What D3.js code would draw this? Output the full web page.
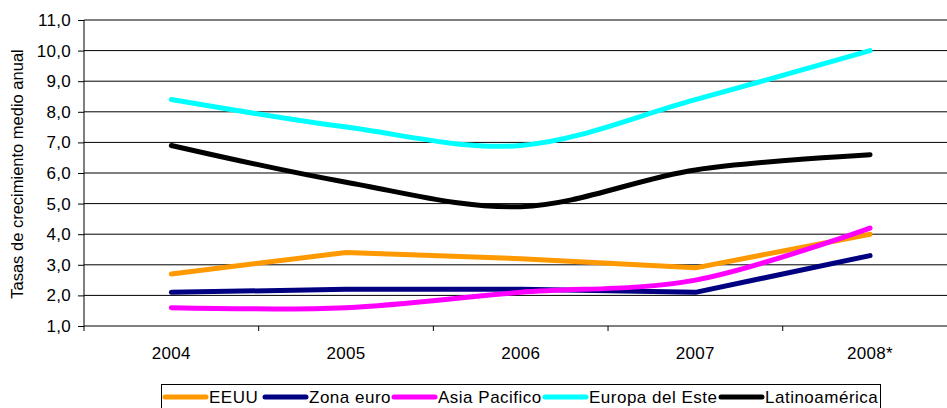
<!DOCTYPE html>
<html>
<head>
<meta charset="utf-8">
<script src="https://cdn.jsdelivr.net/npm/d3@7"></script>
<style>
  html, body { margin: 0; padding: 0; background: #fff; }
  svg { display: block; font-family: "Liberation Sans", Arial, sans-serif; }
</style>
</head>
<body>
<svg id="chart" width="947" height="408"></svg>
<script>
// Categories and tick labels
const years = ["2004", "2005", "2006", "2007", "2008*"];
const yTicks = [1, 2, 3, 4, 5, 6, 7, 8, 9, 10, 11];

// Series values (average annual growth rates)
const eeuu          = [2.7, 3.4, 3.2, 2.9, 4.0];
const zonaEuro      = [2.1, 2.2, 2.2, 2.1, 3.3];
const asiaPacifico  = [1.6, 1.6, 2.1, 2.5, 4.2];
const europaEste    = [8.4, 7.5, 6.9, 8.4, 10.0];
const latinoamerica = [6.9, 5.7, 4.9, 6.1, 6.6];

const seriesNames = ["EEUU", "Zona euro", "Asia Pacifico", "Europa del Este", "Latinoamérica"];
const seriesValues = [eeuu, zonaEuro, asiaPacifico, europaEste, latinoamerica];
const seriesColors = ["#FF9900", "#000080", "#FF00FF", "#00FFFF", "#000000"];
const seriesSmooth = [false, false, true, true, true];

(function draw() {
  const svg = d3.select("#chart");
  const plotLeft = 84, plotRight = 957.4, plotTop = 20, plotBottom = 326;

  const x = d3.scaleBand().domain(years).range([plotLeft, plotRight]).paddingInner(0).paddingOuter(0);
  const y = d3.scaleLinear().domain([1, 11]).range([plotBottom, plotTop]);

  // Horizontal gridlines
  svg.append("g")
    .selectAll("line")
    .data(yTicks.slice(1))
    .join("line")
    .attr("x1", plotLeft).attr("x2", 947)
    .attr("y1", d => y(d)).attr("y2", d => y(d))
    .attr("stroke", "#000").attr("stroke-width", 1);

  // Y axis
  const yAxis = svg.append("g")
    .attr("transform", `translate(${plotLeft},0)`)
    .call(d3.axisLeft(y).tickValues(yTicks).tickSize(6).tickPadding(7)
      .tickFormat(d => d3.format(".1f")(d).replace(".", ",")));
  yAxis.select(".domain").attr("stroke", "#000").attr("d", `M0,${plotTop}V${plotBottom + 5}`);
  yAxis.selectAll("text").attr("font-size", 17).attr("fill", "#000")
    .attr("letter-spacing", 0.3)
    .attr("font-family", "Liberation Sans, Arial, sans-serif");

  // X axis with ticks at category boundaries
  const xAxis = svg.append("g").attr("transform", `translate(0,${plotBottom})`);
  xAxis.append("line").attr("x1", plotLeft).attr("x2", 947).attr("y1", 0).attr("y2", 0).attr("stroke", "#000");
  xAxis.selectAll("line.tick")
    .data(years)
    .join("line")
    .attr("class", "tick")
    .attr("x1", d => x(d) + x.bandwidth()).attr("x2", d => x(d) + x.bandwidth())
    .attr("y1", 0).attr("y2", 5)
    .attr("stroke", "#000");
  xAxis.selectAll("text")
    .data(years)
    .join("text")
    .attr("x", d => x(d) + x.bandwidth() / 2)
    .attr("y", 33)
    .attr("text-anchor", "middle")
    .attr("font-size", 17)
    .attr("letter-spacing", 0.3)
    .text(d => d);

  // Axis title
  svg.append("text")
    .attr("transform", "translate(23,174) rotate(-90)")
    .attr("text-anchor", "middle")
    .attr("font-size", 16.5)
    .text("Tasas de crecimiento medio anual");

  // Lines
  const cx = d => x(d) + x.bandwidth() / 2;
  seriesValues.forEach((vals, i) => {
    const line = d3.line()
      .x((v, j) => cx(years[j]))
      .y(v => y(v))
      .curve(seriesSmooth[i] ? d3.curveCardinal.tension(0) : d3.curveLinear);
    svg.append("path")
      .datum(vals)
      .attr("d", line)
      .attr("fill", "none")
      .attr("stroke", seriesColors[i])
      .attr("stroke-width", 5)
      .attr("stroke-linecap", "round")
      .attr("stroke-linejoin", "round");
  });

  // Legend
  const legend = svg.append("g");
  legend.append("rect")
    .attr("x", 161.5).attr("y", 384.5).attr("width", 719).attr("height", 40)
    .attr("fill", "#fff").attr("stroke", "#000");
  const legendX = [165, 265, 394, 545, 721];
  seriesNames.forEach((name, i) => {
    const g = legend.append("g").attr("transform", `translate(${legendX[i]},397)`);
    g.append("line").attr("x1", 0).attr("x2", 41).attr("y1", 0).attr("y2", 0)
      .attr("stroke", seriesColors[i]).attr("stroke-width", 5).attr("stroke-linecap", "round");
    g.append("text").attr("x", 44).attr("y", 6).attr("font-size", 17)
      .attr("letter-spacing", 0.5).text(name);
  });
})();
</script>
</body>
</html>
